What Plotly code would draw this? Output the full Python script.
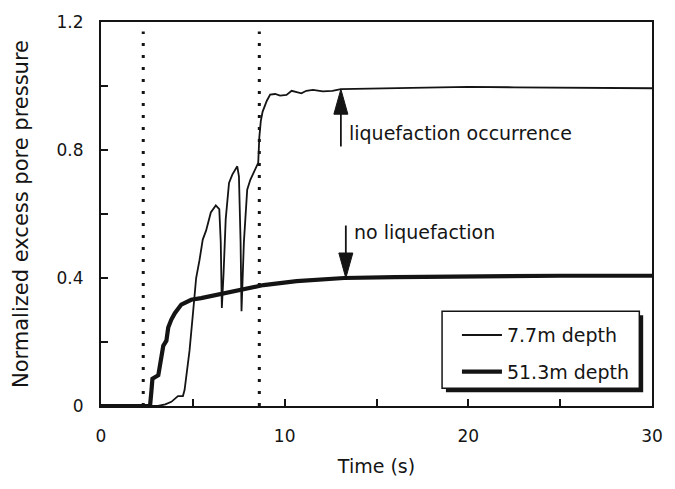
import plotly.graph_objects as go

# ---- data ----
t_thin = [0, 3.1, 3.5, 3.83, 4.19, 4.46, 4.55, 4.64, 4.82, 5.0, 5.18, 5.36, 5.54, 5.72,
          5.98, 6.25, 6.44, 6.52, 6.58, 6.67, 6.79, 6.97, 7.15, 7.42, 7.51, 7.6, 7.65,
          7.78, 7.96, 8.13, 8.49, 8.56, 8.62, 8.7, 8.8, 9.03, 9.21, 9.48, 9.75, 10.1,
          10.38, 10.65, 10.91, 11.18, 11.54, 12.08, 12.6, 13.06, 15, 17.5, 20, 22.5,
          25, 27.5, 30]
y_thin = [0, 0, 0.005, 0.013, 0.031, 0.031, 0.05, 0.09, 0.173, 0.285, 0.40, 0.455, 0.52,
          0.548, 0.605, 0.627, 0.615, 0.512, 0.306, 0.41, 0.584, 0.697, 0.723, 0.749,
          0.718, 0.512, 0.296, 0.512, 0.676, 0.707, 0.749, 0.76, 0.84, 0.89, 0.92,
          0.954, 0.973, 0.975, 0.97, 0.972, 0.985, 0.98, 0.977, 0.985, 0.988, 0.983,
          0.985, 0.99, 0.992, 0.995, 0.997, 0.996, 0.995, 0.994, 0.993]

t_thick = [0, 2.67, 2.75, 2.80, 3.12, 3.30, 3.39, 3.56, 3.66, 3.83, 4.02, 4.37, 4.91,
           5.45, 6.52, 7.6, 8.85, 10.65, 13.24, 16, 20, 25, 30]
y_thick = [0, 0, 0.05, 0.085, 0.096, 0.152, 0.188, 0.204, 0.245, 0.27, 0.29, 0.317,
           0.332, 0.337, 0.35, 0.36, 0.378, 0.39, 0.40, 0.403, 0.406, 0.407, 0.407]

series_names = ["7.7m depth", "51.3m depth"]
dotted_times = [2.3, 8.62]
x_ticks = [0, 10, 20, 30]
y_ticks = [0, 0.4, 0.8, 1.2]

# annotations: (x, tail y, tip y, text, text x, text y)
arrow_up = dict(x=13.06, tail=0.811, tip=0.99, text="liquefaction occurrence", tx=13.39, ty=0.854)
arrow_dn = dict(x=13.33, tail=0.564, tip=0.40, text="no liquefaction", tx=13.69, ty=0.543)

FONT = "DejaVu Sans"
INK = "#141414"

fig = go.Figure()
fig.add_trace(go.Scatter(x=t_thin, y=y_thin, mode="lines", name=series_names[0],
                         line=dict(color=INK, width=1.8), legendgroup="a"))
fig.add_trace(go.Scatter(x=t_thick, y=y_thick, mode="lines", name=series_names[1],
                         line=dict(color=INK, width=4.2), legendgroup="b"))

for tx in dotted_times:
    fig.add_shape(type="line", x0=tx, x1=tx, y0=0, y1=1.17, xref="x", yref="y",
                  line=dict(color=INK, width=3, dash="3px,9px"))

for a, up in ((arrow_up, True), (arrow_dn, False)):
    head = 0.06 if up else -0.06
    fig.add_shape(type="line", x0=a["x"], x1=a["x"], y0=a["tail"], y1=a["tip"] - head,
                  xref="x", yref="y", line=dict(color=INK, width=1.8))
    path = "M0,0 L-7,-25 L7,-25 Z" if up else "M0,0 L-7,25 L7,25 Z"
    fig.add_shape(type="path", xsizemode="pixel", ysizemode="pixel",
                  xanchor=a["x"], yanchor=a["tip"], xref="x", yref="y",
                  path=path, fillcolor=INK, line=dict(color=INK, width=1))
    fig.add_annotation(x=a["tx"], y=a["ty"], text=a["text"], showarrow=False,
                       xanchor="left", yanchor="middle", xref="x", yref="y",
                       font=dict(family=FONT, size=19, color=INK))

# legend frame with drop shadow (legend itself is drawn on top, transparent)
fig.add_shape(type="rect", xref="paper", yref="paper",
              x0=0.626, x1=0.984, y0=0.036, y1=0.2365,
              fillcolor=INK, line=dict(width=0), layer="above")
fig.add_shape(type="rect", xref="paper", yref="paper",
              x0=0.619, x1=0.977, y0=0.0463, y1=0.247,
              fillcolor="white", line=dict(color=INK, width=1.5), layer="above")

fig.update_layout(
    width=675, height=489, autosize=False,
    margin=dict(l=101, r=15, t=17, b=83),
    paper_bgcolor="white", plot_bgcolor="white",
    font=dict(family=FONT, size=17, color=INK),
    showlegend=True,
    legend=dict(x=0.646, y=0.234, xanchor="left", yanchor="top",
                bgcolor="rgba(0,0,0,0)", borderwidth=0,
                font=dict(family=FONT, size=19, color=INK),
                tracegroupgap=9, itemwidth=40),
)
fig.update_xaxes(range=[0, 30], tickvals=x_ticks, ticks="inside", ticklen=7,
                 tickwidth=1.5, tickcolor=INK, showline=True, linewidth=2,
                 linecolor=INK, mirror=True, showgrid=False, zeroline=False,
                 ticklabelstandoff=14,
                 minor=dict(tickvals=[5, 15, 25], ticks="inside", ticklen=7,
                            tickwidth=1.5, tickcolor=INK),
                 title=dict(text="Time (s)", font=dict(family=FONT, size=19), standoff=14))
fig.update_yaxes(range=[0, 1.2], tickvals=y_ticks, ticktext=["0", "0.4", "0.8", "1.2"],
                 ticks="inside", ticklen=7,
                 tickwidth=1.5, tickcolor=INK, showline=True, linewidth=2,
                 linecolor=INK, mirror=True, showgrid=False, zeroline=False,
                 ticklabelstandoff=12,
                 minor=dict(tickvals=[0.2, 0.6, 1.0], ticks="inside", ticklen=7,
                            tickwidth=1.5, tickcolor=INK),
                 title=dict(text="Normalized excess pore pressure",
                            font=dict(family=FONT, size=21), standoff=22))

fig.write_html("out.html")
